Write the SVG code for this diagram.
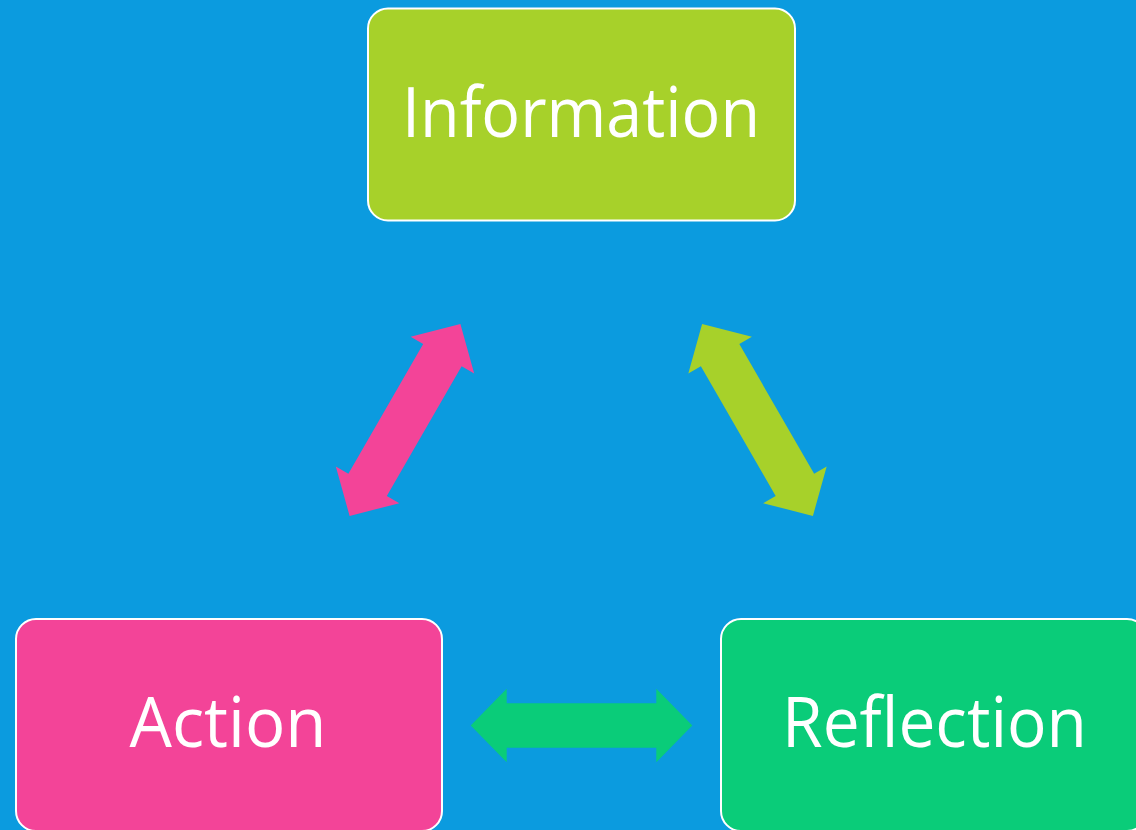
<svg xmlns="http://www.w3.org/2000/svg" xmlns:xlink="http://www.w3.org/1999/xlink" width="1136" height="830" viewBox="0 0 1136 830">
  <style>
    .box { stroke: #ffffff; stroke-width: 2; }
    .label { font-family: "Open Sans", Lato, "Liberation Sans", sans-serif; font-size: 70px; fill: #ffffff; text-anchor: middle; font-variant-ligatures: none; font-feature-settings: "liga" 0, "clig" 0; }
    .info { fill: #a7d12a; }
    .act { fill: #f34498; }
    .refl { fill: #0acc79; }
  </style>
  <defs>
    <!-- double-headed block arrow, centred on the origin, pointing along x -->
    <path id="dblArrow" d="M-110.8,0 L-74.8,-36.7 L-74.8,-22.2 L74.8,-22.2 L74.8,-36.7 L110.8,0 L74.8,36.7 L74.8,22.2 L-74.8,22.2 L-74.8,36.7 Z"/>
  </defs>

  <rect x="0" y="0" width="1136" height="830" fill="#0b9bdf"/>

  <g id="connectors">
    <use xlink:href="#dblArrow" class="act" transform="translate(405,420) rotate(-60)"/>
    <use xlink:href="#dblArrow" class="info" transform="translate(757.5,420) rotate(60)"/>
    <use xlink:href="#dblArrow" class="refl" transform="translate(581.5,725.5)"/>
  </g>

  <g id="node-information">
    <rect class="box info" x="368" y="8.5" width="427" height="212" rx="20" ry="20"/>
    <text class="label" x="581" y="137" textLength="358" lengthAdjust="spacingAndGlyphs">Information</text>
  </g>

  <g id="node-action">
    <rect class="box act" x="16" y="619" width="426" height="212" rx="20" ry="20"/>
    <text class="label" x="228" y="747" textLength="197" lengthAdjust="spacingAndGlyphs">Action</text>
  </g>

  <g id="node-reflection">
    <rect class="box refl" x="721" y="619" width="426" height="212" rx="20" ry="20"/>
    <text class="label" x="934.5" y="747" textLength="305" lengthAdjust="spacingAndGlyphs">Reflection</text>
  </g>
</svg>
